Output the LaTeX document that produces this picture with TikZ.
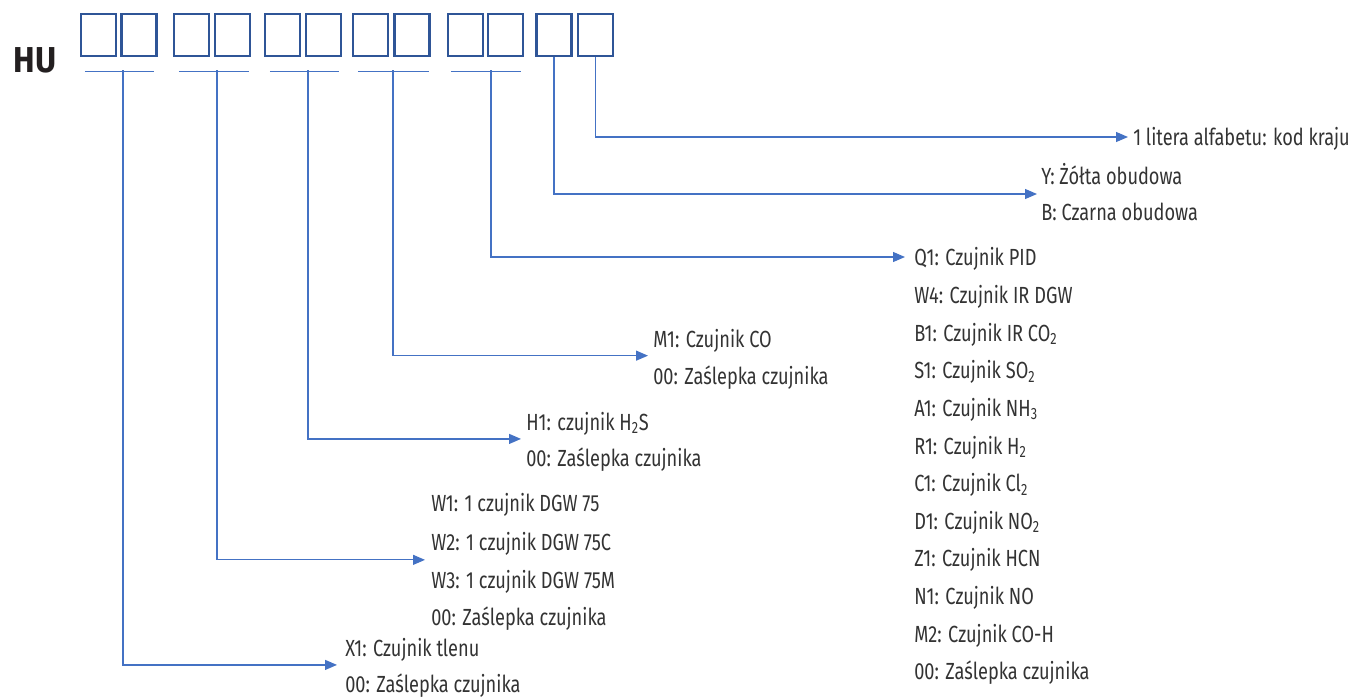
\documentclass[tikz,border=0pt]{standalone}
\usepackage{fontspec}
\setmainfont{Fira Sans}[FakeStretch=0.78]
\newfontfamily\hufont{Fira Sans}[FakeStretch=0.9]
\usetikzlibrary{calc,arrows.meta}
\definecolor{lineblue}{HTML}{4472C4}
\definecolor{boxblue}{HTML}{2F5597}
\definecolor{txtgray}{HTML}{333333}
\definecolor{hublack}{HTML}{231F20}
\begin{document}
\begin{tikzpicture}[x=0.75pt,y=-0.75pt,
  box/.style={draw=boxblue,line width=1.7pt,minimum width=26.25pt,minimum height=31.5pt,inner sep=0pt},
  conn/.style={draw=lineblue,line width=0.9pt},
  arr/.style={conn,-{Triangle[length=9pt,width=7.5pt]}},
  lbl/.style={anchor=west,inner sep=0pt,text=txtgray,font=\fontsize{17.5}{19}\selectfont,text height=12pt,text depth=0pt},
]
\useasboundingbox (0,0) rectangle (1352,696);

% title
\node[font=\hufont\bfseries\fontsize{27}{30}\selectfont,text=hublack,inner sep=0pt] (hu) at (35,60.5) {HU};

% boxes
\node[box] (b1) at (98.5,35) {};
\node[box] (b2) at (139,35) {};
\node[box] (b3) at (191.5,35) {};
\node[box] (b4) at (232.5,35) {};
\node[box] (b5) at (282.5,35) {};
\node[box] (b6) at (323.5,35) {};
\node[box] (b7) at (370.5,35) {};
\node[box] (b8) at (412,35) {};
\node[box] (b9) at (465.5,35) {};
\node[box] (b10) at (505.5,35) {};
\node[box] (b11) at (554,35) {};
\node[box] (b12) at (595.5,35) {};

% underlines
\draw[conn] ([xshift=3.75pt,yshift=-10.5pt]b1.south west) -- ([xshift=-3pt,yshift=-10.5pt]b2.south east);
\draw[conn] ([xshift=4.5pt,yshift=-10.5pt]b3.south west) -- ([xshift=-1.5pt,yshift=-10.5pt]b4.south east);
\draw[conn] ([xshift=4.5pt,yshift=-10.5pt]b5.south west) -- ([xshift=-2.25pt,yshift=-10.5pt]b6.south east);
\draw[conn] ([xshift=4.5pt,yshift=-10.5pt]b7.south west) -- ([xshift=-1.5pt,yshift=-10.5pt]b8.south east);
\draw[conn] ([xshift=3pt,yshift=-10.5pt]b9.south west) -- ([xshift=-2.25pt,yshift=-10.5pt]b10.south east);

\coordinate (t1) at (123,70);
\coordinate (t2) at (217,70);
\coordinate (t3) at (308,70);
\coordinate (t4) at (393,70);
\coordinate (t5) at (491,70);

% labels
\node[lbl] (k1) at (1133,137) {1 litera alfabetu: kod kraju};

\node[lbl] (y1) at (1041,176) {Y: Żółta obudowa};
\node[lbl] (y2) at (1041,212) {B: Czarna obudowa};

\node[lbl] (q1) at (914,257) {Q1: Czujnik PID};
\node[lbl] (q2) at (914,295.6) {W4: Czujnik IR DGW};
\node[lbl] (q3) at (914,333.2) {B1: Czujnik IR CO\textsubscript{2}};
\node[lbl] (q4) at (914,370.8) {S1: Czujnik SO\textsubscript{2}};
\node[lbl] (q5) at (914,408.4) {A1: Czujnik NH\textsubscript{3}};
\node[lbl] (q6) at (914,446) {R1: Czujnik H\textsubscript{2}};
\node[lbl] (q7) at (914,483.6) {C1: Czujnik Cl\textsubscript{2}};
\node[lbl] (q8) at (914,521.2) {D1: Czujnik NO\textsubscript{2}};
\node[lbl] (q9) at (914,558.8) {Z1: Czujnik HCN};
\node[lbl] (q10) at (914,596.4) {N1: Czujnik NO};
\node[lbl] (q11) at (914,634) {M2: Czujnik CO-H};
\node[lbl] (q12) at (914,671.6) {00: Zaślepka czujnika};

\node[lbl] (m1) at (653,339) {M1: Czujnik CO};
\node[lbl] (m2) at (653,376) {00: Zaślepka czujnika};

\node[lbl] (h1) at (526,422) {H1: czujnik H\textsubscript{2}S};
\node[lbl] (h2) at (526,458) {00: Zaślepka czujnika};

\node[lbl] (w1) at (431,503) {W1: 1 czujnik DGW 75};
\node[lbl] (w2) at (431,542) {W2: 1 czujnik DGW 75C};
\node[lbl] (w3) at (431,580) {W3: 1 czujnik DGW 75M};
\node[lbl] (w4) at (431,617) {00: Zaślepka czujnika};

\node[lbl] (x1) at (345,648) {X1: Czujnik tlenu};
\node[lbl] (x2) at (345,684) {00: Zaślepka czujnika};

% connectors
\draw[arr] (b12.south) |- ([xshift=-3.75pt]k1.west);
\draw[arr] (b11.south) |- ([xshift=-3pt]$(y1.west)!0.5!(y2.west)$);
\draw[arr] (t5) |- ([xshift=-6.75pt]q1.west);
\draw[arr] (t4) |- ([xshift=-3.75pt]$(m1.west)!0.45!(m2.west)$);
\draw[arr] (t3) |- ([xshift=-3.75pt]$(h1.west)!0.47!(h2.west)$);
\draw[arr] (t2) |- ([xshift=-4.5pt]$(w2.west)!0.47!(w3.west)$);
\draw[arr] (t1) |- ([xshift=-6pt]$(x1.west)!0.47!(x2.west)$);
\end{tikzpicture}
\end{document}
